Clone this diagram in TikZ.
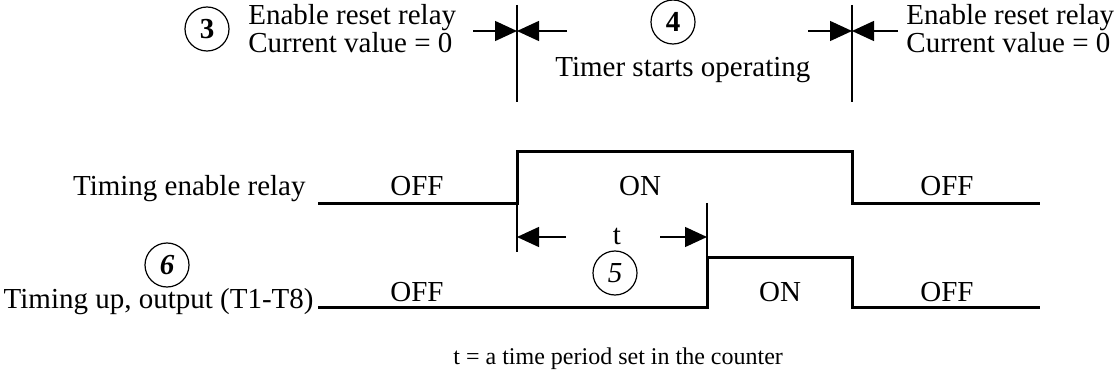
\documentclass[tikz,border=0pt]{standalone}
\usepackage{fontspec}
\setmainfont{Liberation Serif}
\usetikzlibrary{arrows.meta, positioning}

\begin{document}
\begin{tikzpicture}[
        x=0.5pt, y=-0.5pt,
        every node/.style={font=\fontsize{14.5}{14}\selectfont, inner sep=0pt},
        signal/.style={line width=1.5pt, line join=miter},
        marker/.style={line width=0.7pt},
        arrow/.style={line width=0.7pt, -{Triangle[length=11pt, width=10pt]}},
        num/.style={circle, draw, line width=0.6pt, minimum size=22pt, inner sep=0pt}
    ]
    \useasboundingbox (0,0) rectangle (1120,374);

    % reset markers
    \coordinate (m1top) at (517,5);
    \coordinate (m1mid) at (517,31);
    \coordinate (m1bot) at (517,102);
    \coordinate (m2top) at (852,5);
    \coordinate (m2mid) at (852,31);
    \coordinate (m2bot) at (852,102);
    \coordinate (a1l) at (473,31);
    \coordinate (a1r) at (567,31);
    \coordinate (a2l) at (808,31);
    \coordinate (a2r) at (898,31);

    \draw [marker] (m1top) -- (m1bot);
    \draw [marker] (m2top) -- (m2bot);
    \draw [arrow] (a1l) -- (m1mid);
    \draw [arrow] (a1r) -- (m1mid);
    \draw [arrow] (a2l) -- (m2mid);
    \draw [arrow] (a2r) -- (m2mid);

    \node (c3) [num] at (207,29) {\textbf{3}};
    \node (rst1a) [anchor=base west] at (248,25) {Enable reset relay};
    \node (rst1b) [anchor=base west] at (248,53) {Current value = 0};
    \node (c4) [num] at (673,22) {\textbf{4}};
    \node (timer) [anchor=base west] at (555,77) {Timer starts operating};
    \node (rst2a) [anchor=base west] at (906,25) {Enable reset relay};
    \node (rst2b) [anchor=base west] at (906,53) {Current value = 0};

    % timing enable relay
    \coordinate (e0) at (318,204);
    \coordinate (e1) at (517,204);
    \coordinate (e2) at (517,152);
    \coordinate (e3) at (852,152);
    \coordinate (e4) at (852,204);
    \coordinate (e5) at (1040,204);
    \draw [signal] (e0) -- (e1) -- (e2) -- (e3) -- (e4) -- (e5);

    \node (enlbl) [anchor=base east] at (306,196) {Timing enable relay};
    \node (enoff1) [anchor=base] at (417,196) {OFF};
    \node (enon) [anchor=base] at (640,196) {ON};
    \node (enoff2) [anchor=base] at (947,196) {OFF};

    % timing up output
    \coordinate (o0) at (318,307);
    \coordinate (o1) at (707,307);
    \coordinate (o2) at (707,257);
    \coordinate (o3) at (852,257);
    \coordinate (o4) at (852,307);
    \coordinate (o5) at (1040,307);
    \draw [signal] (o0) -- (o1) -- (o2) -- (o3) -- (o4) -- (o5);

    \node (outlbl) [anchor=base east] at (314,308) {Timing up, output (T1-T8)};
    \node (c6) [num] at (167,265) {\textbf{\textit{6}}};
    \node (outoff1) [anchor=base] at (417,301) {OFF};
    \node (outon) [anchor=base] at (780,301) {ON};
    \node (outoff2) [anchor=base] at (947,301) {OFF};

    % set time t
    \coordinate (tlbot) at (517,252);
    \coordinate (trtop) at (707,203);
    \coordinate (tla) at (566,237);
    \coordinate (tlt) at (517,237);
    \coordinate (tra) at (660,237);
    \coordinate (trt) at (707,237);
    \draw [marker] (e1) -- (tlbot);
    \draw [marker] (trtop) -- (o2);
    \draw [arrow] (tla) -- (tlt);
    \draw [arrow] (tra) -- (trt);

    \node (tlen) [anchor=base] at (617,244) {t};
    \node (c5) [num] at (615,273) {\textit{5}};

    \node (note) [anchor=base west, font=\fontsize{12}{14}\selectfont] at (453,364) {t = a time period set in the counter};

\end{tikzpicture}
\end{document}
